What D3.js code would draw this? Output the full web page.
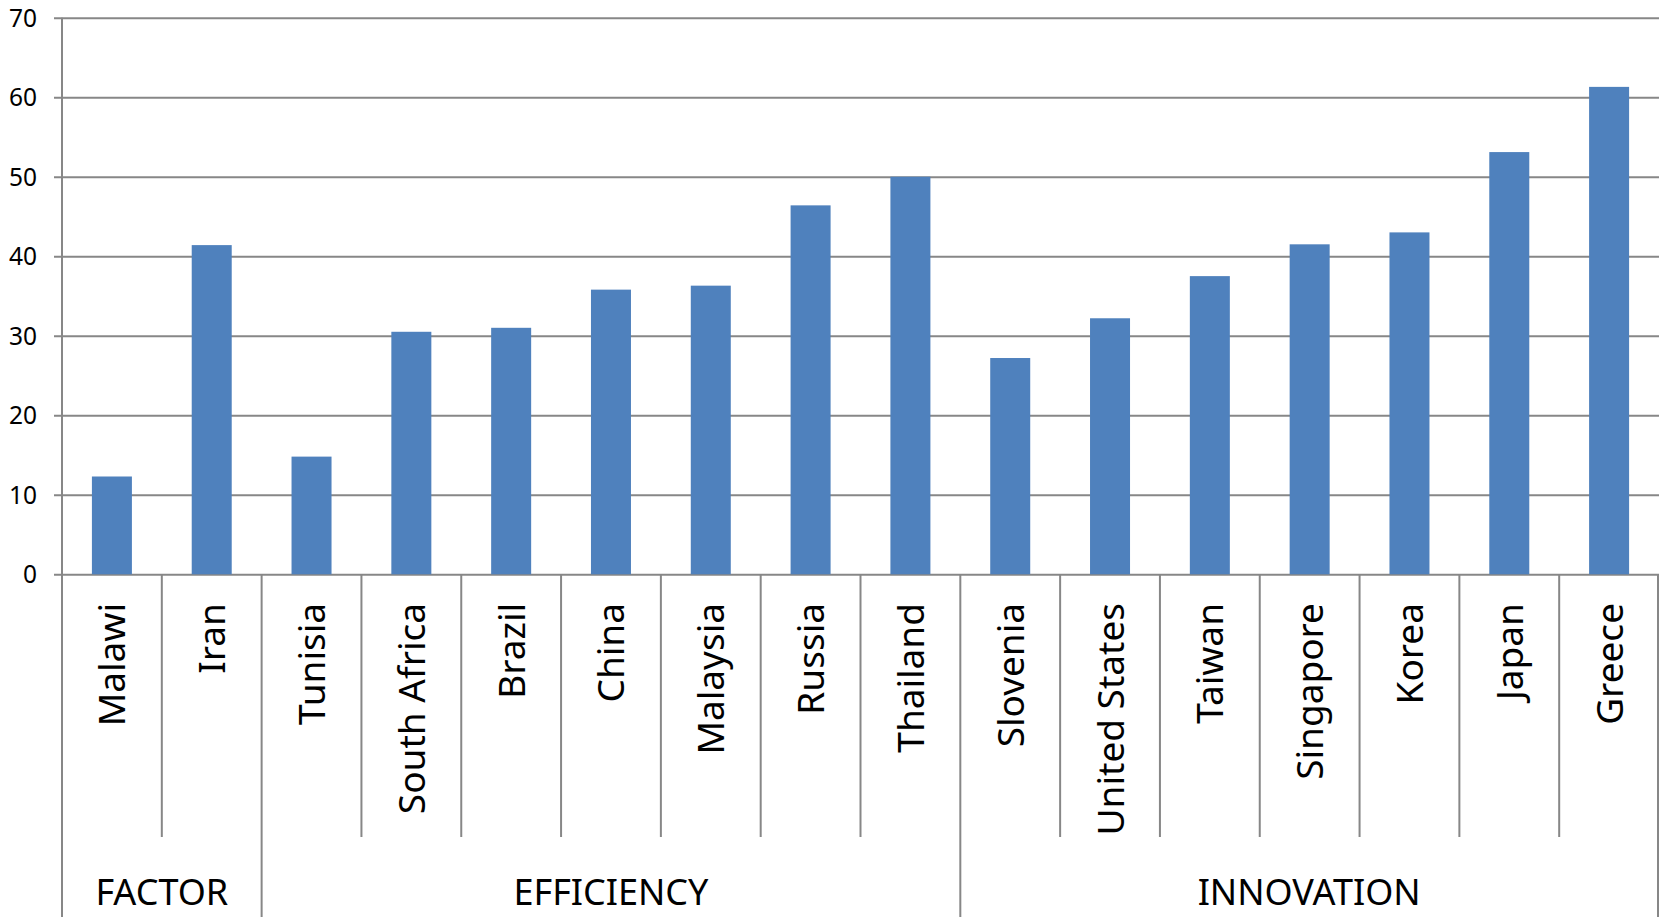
<!DOCTYPE html>
<html>
<head>
<meta charset="utf-8">
<script src="https://cdn.jsdelivr.net/npm/d3@7"></script>
<style>
  html, body { margin: 0; padding: 0; background: #fff; }
  svg { display: block; }
  text { font-family: "Noto Sans", "Open Sans", sans-serif; fill: #000; }
</style>
</head>
<body>
<svg id="chart" width="1659" height="917"></svg>
<script>
// Countries, grouped by development stage
const countries = ["Malawi", "Iran", "Tunisia", "South Africa", "Brazil", "China", "Malaysia",
  "Russia", "Thailand", "Slovenia", "United States", "Taiwan", "Singapore", "Korea", "Japan", "Greece"];
const values = [12.3, 41.4, 14.8, 30.5, 31.0, 35.8, 36.3, 46.4, 50.0, 27.2, 32.2, 37.5, 41.5, 43.0, 53.1, 61.3];
const groupNames = ["FACTOR", "EFFICIENCY", "INNOVATION"];
const groupSizes = [2, 7, 7];
const yTicks = [0, 10, 20, 30, 40, 50, 60, 70];

const svg = d3.select("#chart");
const plotLeft = 62, plotRight = 1659, plotTop = 17.7, plotBase = 574.3;
const tickBottom = 837, groupBottom = 917;

const x = d3.scaleBand().domain(countries).range([plotLeft, plotRight]).paddingInner(0).paddingOuter(0);
const y = d3.scaleLinear().domain([0, 70]).range([plotBase, plotTop]);
const gridColor = "#878787";

// horizontal gridlines with small outside ticks
const yAxis = d3.axisLeft(y).tickValues(yTicks).tickSize(-(plotRight - plotLeft)).tickPadding(18);
const gy = svg.append("g").attr("transform", `translate(${plotLeft},0)`).call(yAxis);
gy.select(".domain").remove();
gy.selectAll(".tick line").attr("x1", -8).attr("stroke", gridColor).attr("stroke-width", 2);
gy.selectAll(".tick text").attr("font-size", 24.5).attr("x", -25).attr("dy", "0.35em")
  .attr("fill", "#000")
  .style("font-family", '"Noto Sans", sans-serif');

// bars
const barW = 40;
svg.append("g").selectAll("rect").data(countries).join("rect")
  .attr("x", d => x(d) + x.bandwidth() / 2 - barW / 2)
  .attr("width", barW)
  .attr("y", (d, i) => y(values[i]))
  .attr("height", (d, i) => y(0) - y(values[i]))
  .attr("fill", "#4F81BD");

// y axis line
svg.append("line").attr("x1", plotLeft).attr("x2", plotLeft).attr("y1", plotTop).attr("y2", groupBottom)
  .attr("stroke", gridColor).attr("stroke-width", 2);

// category separators
const bounds = countries.map(c => x(c)).concat([plotRight - 1]);
const groupStarts = [0];
groupSizes.forEach((s, i) => groupStarts.push(groupStarts[i] + s));
svg.append("g").selectAll("line").data(bounds.slice(1)).join("line")
  .attr("x1", d => d).attr("x2", d => d)
  .attr("y1", plotBase)
  .attr("y2", (d, i) => groupStarts.includes(i + 1) ? groupBottom : tickBottom)
  .attr("stroke", gridColor).attr("stroke-width", 2);

// country labels, rotated
svg.append("g").selectAll("text").data(countries).join("text")
  .attr("transform", d => `translate(${x(d) + x.bandwidth() / 2 + 13.5},603) rotate(-90)`)
  .attr("text-anchor", "end")
  .attr("font-size", 37)
  .text(d => d);

// group labels
svg.append("g").selectAll("text").data(groupNames).join("text")
  .attr("x", (d, i) => (bounds[groupStarts[i]] + bounds[groupStarts[i + 1]]) / 2)
  .attr("y", 905)
  .attr("text-anchor", "middle")
  .attr("font-size", 36)
  .text(d => d);
</script>
</body>
</html>
